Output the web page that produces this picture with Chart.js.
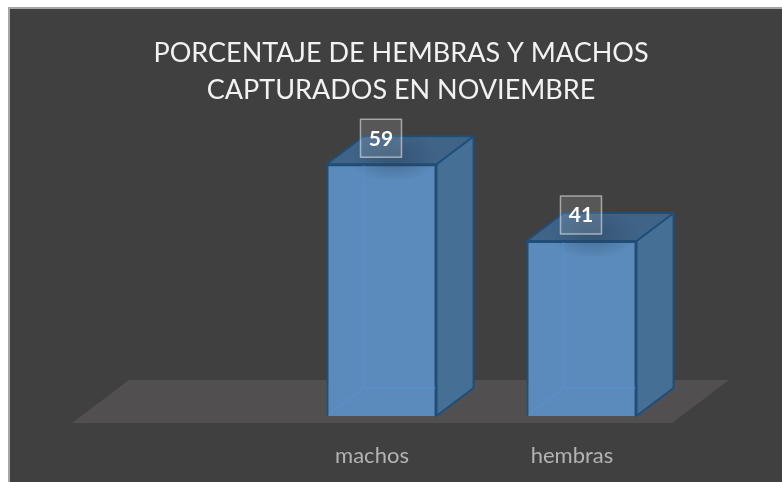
<!DOCTYPE html>
<html lang="es">
<head>
    <meta charset="UTF-8">
    <title>Porcentaje de hembras y machos</title>
    <style>
        html, body { margin: 0; padding: 0; background: #fff; overflow: hidden; width: 782px; height: 482px; }
        canvas { display: block; }
    </style>
    <script src="https://cdn.jsdelivr.net/npm/chart.js"></script>
</head>
<body>
    <canvas id="chart" width="802" height="482"></canvas>
    <script>
        // first category is empty in the original, the floor runs under it
        const categories = ['', 'machos', 'hembras'];
        const percentages = [null, 59, 41];
        const titleLines = ['PORCENTAJE DE HEMBRAS Y MACHOS', 'CAPTURADOS EN NOVIEMBRE'];

        const DEPTH_X = 37, DEPTH_Y = 28;

        function poly(ctx, pts, fill, stroke, lw) {
            ctx.beginPath();
            pts.forEach((p, i) => i ? ctx.lineTo(p[0], p[1]) : ctx.moveTo(p[0], p[1]));
            ctx.closePath();
            if (fill) { ctx.fillStyle = fill; ctx.fill(); }
            if (stroke) { ctx.strokeStyle = stroke; ctx.lineWidth = lw; ctx.lineJoin = 'round'; ctx.stroke(); }
        }

        // slide background, floor and the 3d faces of the bars
        const cube = {
            id: 'cube',
            beforeDraw(chart) {
                const ctx = chart.ctx;
                ctx.save();
                ctx.fillStyle = '#fff';
                ctx.fillRect(0, 0, chart.width, chart.height);
                ctx.fillStyle = '#a6a6a6';
                ctx.fillRect(8, 7, chart.width, chart.height);
                ctx.fillStyle = '#404040';
                ctx.fillRect(10, 9, chart.width, chart.height);
                ctx.restore();
            },
            beforeDatasetsDraw(chart) {
                const ctx = chart.ctx, a = chart.chartArea;
                const y0 = chart.scales.y.getPixelForValue(0);
                const l = a.left - 9.5, r = a.right - 9.5, b = y0 + 7;
                poly(ctx, [[l, b], [r, b], [r + 57, b - 43], [l + 57, b - 43]], '#524f50');
                chart.getDatasetMeta(0).data.forEach((el, i) => {
                    if (percentages[i] == null) return;
                    const x1 = el.x - el.width / 2, x2 = el.x + el.width / 2;
                    poly(ctx, [[x2, el.y], [x2 + DEPTH_X, el.y - DEPTH_Y], [x2 + DEPTH_X, el.base - DEPTH_Y], [x2, el.base]], '#466f96', '#1f4e79', 2);
                    poly(ctx, [[x1, el.y], [x1 + DEPTH_X, el.y - DEPTH_Y], [x2 + DEPTH_X, el.y - DEPTH_Y], [x2, el.y]], '#3f6488', '#1f4e79', 2);
                });
            },
            afterDatasetsDraw(chart) {
                const ctx = chart.ctx;
                chart.getDatasetMeta(0).data.forEach((el, i) => {
                    if (percentages[i] == null) return;
                    const x1 = el.x - el.width / 2, x2 = el.x + el.width / 2;

                    // back edges showing through the front face
                    ctx.save();
                    ctx.strokeStyle = 'rgba(91,150,210,0.45)';
                    ctx.lineWidth = 1.5;
                    ctx.beginPath();
                    ctx.moveTo(x1 + DEPTH_X, el.y + 1);
                    ctx.lineTo(x1 + DEPTH_X, el.base - DEPTH_Y);
                    ctx.lineTo(x2 - 1, el.base - DEPTH_Y);
                    ctx.moveTo(x1 + DEPTH_X, el.base - DEPTH_Y);
                    ctx.lineTo(x1 + 2, el.base - 1);
                    ctx.stroke();
                    ctx.restore();

                    // soft shadow under the label
                    const sx = el.x + 12, sy = el.y - 8;
                    ctx.save();
                    ctx.beginPath();
                    ctx.rect(x1 + 2, el.y - DEPTH_Y + 1, x2 - x1 + 20, DEPTH_Y + 14);
                    ctx.clip();
                    ctx.translate(sx, sy);
                    ctx.scale(1, 0.6);
                    const g = ctx.createRadialGradient(0, 0, 10, 0, 0, 44);
                    g.addColorStop(0, 'rgba(40,60,85,0.32)');
                    g.addColorStop(1, 'rgba(40,60,85,0)');
                    ctx.fillStyle = g;
                    ctx.fillRect(-44, -44, 88, 88);
                    ctx.restore();

                    // value label
                    const bx = el.x - 21, by = el.y - 45;
                    ctx.save();
                    ctx.fillStyle = 'rgba(255,255,255,0.12)';
                    ctx.strokeStyle = 'rgba(255,255,255,0.5)';
                    ctx.lineWidth = 1.5;
                    ctx.fillRect(bx, by, 41, 38);
                    ctx.strokeRect(bx, by, 41, 38);
                    ctx.fillStyle = '#fff';
                    ctx.font = 'bold 21px Lato';
                    ctx.textAlign = 'center';
                    ctx.textBaseline = 'middle';
                    ctx.fillText(String(percentages[i]), bx + 20.5, by + 19.5);
                    ctx.restore();
                });
            }
        };

        // invisible axis, only reserves room beside the plot
        function spacer(position, width) {
            return {
                position: position,
                display: true,
                grid: { display: false },
                border: { display: false },
                ticks: { display: false },
                afterFit(scale) { scale.width = width; }
            };
        }

        new Chart(document.getElementById('chart'), {
            type: 'bar',
            data: {
                labels: categories,
                datasets: [{
                    data: percentages,
                    backgroundColor: '#5a8bbc',
                    borderColor: '#1f4e79',
                    borderWidth: 2,
                    barPercentage: 0.55,
                    categoryPercentage: 1
                }]
            },
            options: {
                responsive: false,
                animation: false,
                plugins: {
                    legend: { display: false },
                    tooltip: { enabled: false },
                    title: {
                        display: true,
                        text: titleLines,
                        color: '#f2f2f2',
                        font: { family: 'Lato', size: 27, weight: 'normal', lineHeight: 1.37 },
                        padding: { top: 35, bottom: 51 }
                    }
                },
                scales: {
                    x: {
                        grid: { display: false, drawTicks: false },
                        border: { display: false },
                        ticks: { color: '#b3b3b3', font: { family: 'Lato', size: 22 }, padding: 27, labelOffset: -9.5, maxRotation: 0 },
                        afterFit(scale) { scale.height = 66; }
                    },
                    y: Object.assign(spacer('left', 81.5), { min: 0, max: 60 }),
                    y2: spacer('right', 120.5)
                }
            },
            plugins: [cube]
        });
    </script>
</body>
</html>
